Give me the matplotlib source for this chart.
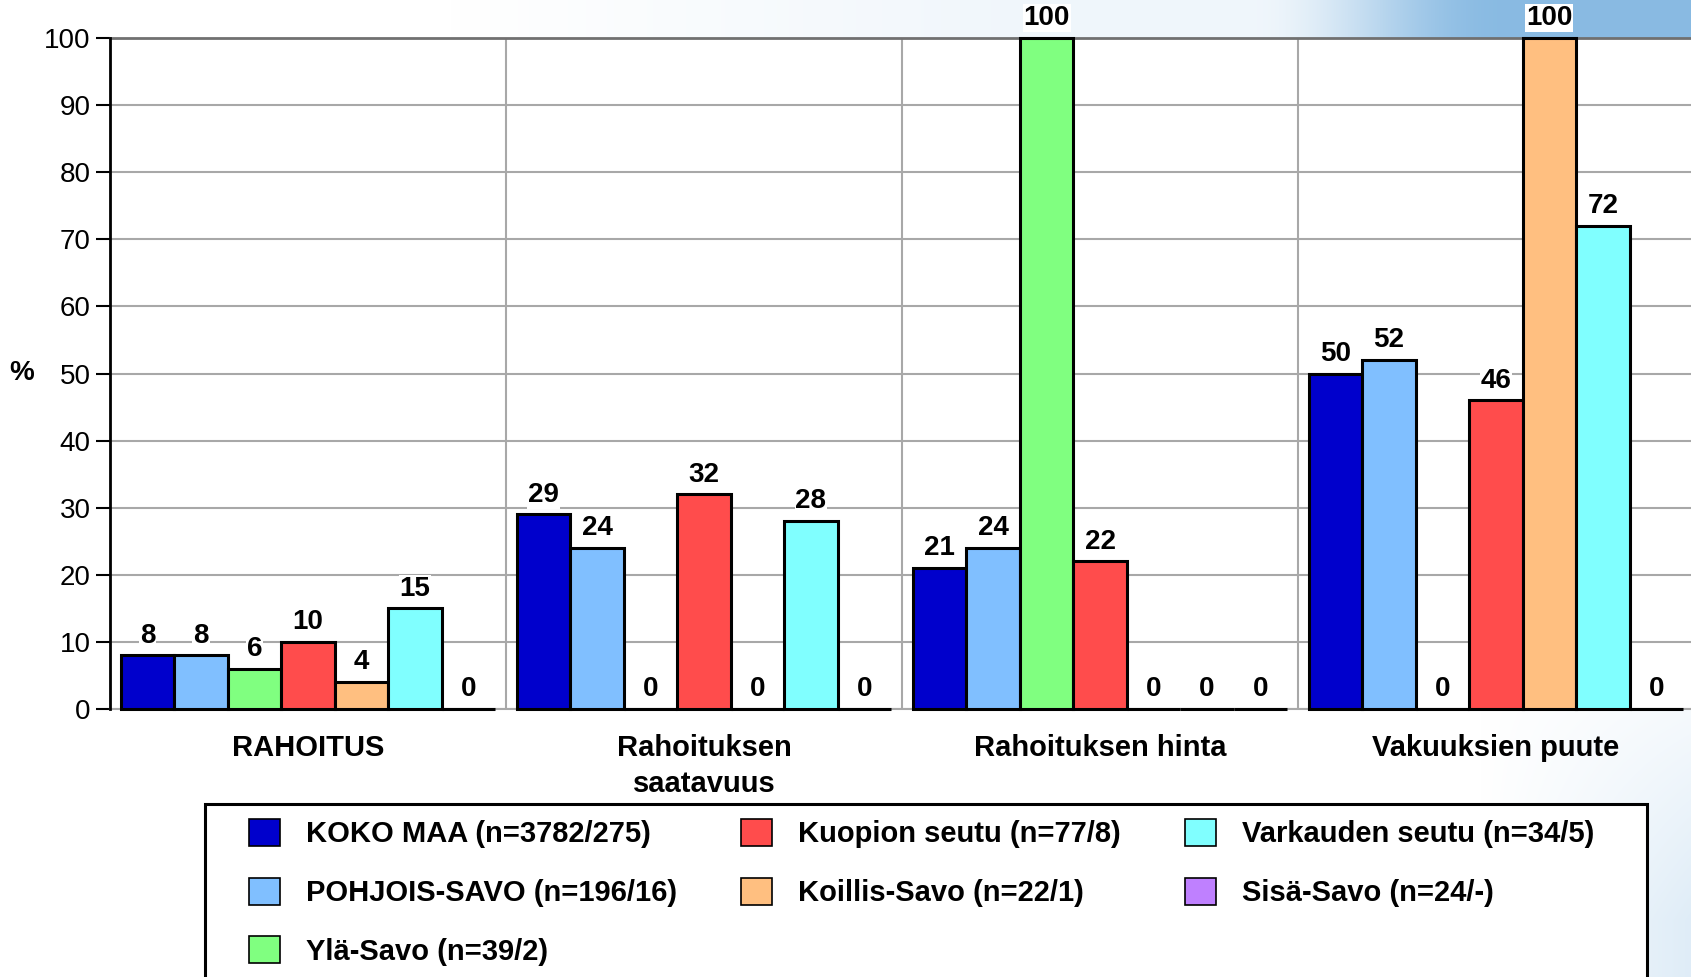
import numpy as np
import matplotlib
matplotlib.use("Agg")
import matplotlib.pyplot as plt
from matplotlib.patches import Rectangle, Patch

plt.rcParams['font.family'] = ['Liberation Sans', 'DejaVu Sans']

# data
categories = ["RAHOITUS", "Rahoituksen\nsaatavuus", "Rahoituksen hinta", "Vakuuksien puute"]
series = ["KOKO MAA (n=3782/275)", "POHJOIS-SAVO (n=196/16)", "Ylä-Savo (n=39/2)",
          "Kuopion seutu (n=77/8)", "Koillis-Savo (n=22/1)", "Varkauden seutu (n=34/5)",
          "Sisä-Savo (n=24/-)"]
koko_maa = [8, 29, 21, 50]
pohjois_savo = [8, 24, 24, 52]
yla_savo = [6, 0, 100, 0]
kuopion_seutu = [10, 32, 22, 46]
koillis_savo = [4, 0, 0, 100]
varkauden_seutu = [15, 28, 0, 72]
sisa_savo = [0, 0, 0, 0]
values = [koko_maa, pohjois_savo, yla_savo, kuopion_seutu, koillis_savo, varkauden_seutu, sisa_savo]
colors = ["#0000CC", "#80BFFF", "#80FF80", "#FF4C4C", "#FFBF80", "#80FFFF", "#BF80FF"]
yticks = list(range(0, 101, 10))

W, H = 1691, 977
fig = plt.figure(figsize=(W / 100, H / 100), dpi=100)

# background gradient (slide template)
xx, yy = np.meshgrid(np.arange(W), np.arange(H))
a = np.zeros((H, W))
top = yy < 40
s = np.clip((xx - 1250) / 250, 0, 1)
a_top = 0.12 * np.clip((xx - 450) / 600, 0, 1) + 0.8 * s * s * (3 - 2 * s)
a[top] = a_top[top]
a += 0.25 * np.clip((xx - 1480) / 210, 0, 1) * np.clip((yy - 620) / 300, 0, 1)
blue = np.array([0.5, 0.71, 0.88])
img = 1 - a[..., None] * (1 - blue)
bg = fig.add_axes([0, 0, 1, 1], zorder=-5)
bg.imshow(img, aspect='auto', extent=[0, 1, 0, 1])
bg.axis('off')

ax = fig.add_axes([110 / W, 1 - 709 / H, 1584 / W, 671 / H])
ax.set_facecolor('white')
n = len(series)
w = 0.135
x = np.arange(len(categories)) + 0.5
for j in range(n):
    pos = x + (j - (n - 1) / 2) * w
    ax.bar(pos, values[j], width=w, color=colors[j], edgecolor='black', linewidth=2.2,
           zorder=3, clip_on=False)
    for px, v in zip(pos, values[j]):
        ax.text(px, v + 1.0, str(v), ha='center', va='bottom', fontsize=20,
                fontweight='bold', zorder=5, clip_on=False,
                bbox=dict(facecolor='white', edgecolor='none', pad=0.5))

ax.set_xlim(0, 4)
ax.set_ylim(0, 100)
ax.set_yticks(yticks)
ax.tick_params(axis='y', labelsize=20, length=10, width=1.5, pad=4)
ax.set_xticks(x)
ax.set_xticklabels(categories, fontsize=21, fontweight='bold', linespacing=1.38)
ax.tick_params(axis='x', length=0, pad=18)
ax.set_xticks([1, 2, 3], minor=True)
ax.grid(axis='y', color='#a8a8a8', linewidth=1.5, zorder=0)
ax.grid(axis='x', which='minor', color='#a8a8a8', linewidth=1.5, zorder=0)
ax.tick_params(axis='x', which='minor', length=0)
ax.set_axisbelow(True)
ax.spines['left'].set_linewidth(2)
ax.spines['left'].set_zorder(4)
ax.spines['top'].set_color('#707070')
ax.spines['top'].set_linewidth(2)
ax.spines['bottom'].set_color('#a8a8a8')
ax.spines['bottom'].set_linewidth(1.5)
ax.spines['right'].set_visible(False)

fig.text(22 / W, 1 - 373 / H, "%", fontsize=20, fontweight='bold', ha='center', va='center')

# legend
fig.patches.append(Rectangle((205 / W, -0.05), 1442 / W, 0.05 + 1 - 804 / H,
                             transform=fig.transFigure, facecolor='white',
                             edgecolor='black', linewidth=2.2, zorder=1))
handles = [Patch(facecolor=c, edgecolor='black', linewidth=1.2) for c in colors]
leg = fig.legend(handles, series, loc='upper left', bbox_to_anchor=(249 / W, 1 - 819 / H),
                 ncol=3, frameon=False, borderpad=0, borderaxespad=0,
                 prop=dict(size=21, weight='bold'), handlelength=1.05, handleheight=1.05,
                 handletextpad=0.9, labelspacing=1.0, columnspacing=2.2)
leg.set_zorder(2)

fig.savefig("out.png", dpi=100)
